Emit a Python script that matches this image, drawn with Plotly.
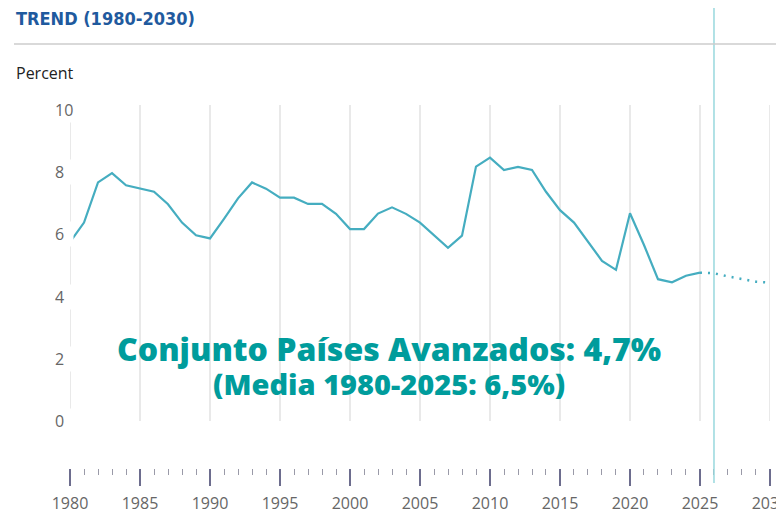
import plotly.graph_objects as go

years = list(range(1980, 2026))
values = [5.75, 6.38, 7.67, 7.97, 7.58, 7.47, 7.37, 6.97, 6.38, 5.97,
          5.87, 6.50, 7.16, 7.67, 7.47, 7.18, 7.18, 6.98, 6.98, 6.66,
          6.17, 6.17, 6.67, 6.87, 6.66, 6.38, 5.98, 5.57, 5.96, 8.18,
          8.47, 8.07, 8.17, 8.07, 7.37, 6.78, 6.38, 5.77, 5.15, 4.86,
          6.68, 5.66, 4.56, 4.46, 4.67, 4.77]
proj_years = [2025, 2026, 2027, 2028, 2029, 2030]
proj_values = [4.77, 4.75, 4.65, 4.57, 4.48, 4.45]
y_ticks = [0, 2, 4, 6, 8, 10]
x_ticks = list(range(1980, 2031, 5))
current_year = 2026
headline = "Conjunto Países Avanzados: 4,7%"
subline = "(Media 1980-2025: 6,5%)"

LINE = "#45adc0"
TEAL = "#009c9c"

fig = go.Figure()
fig.add_trace(go.Scatter(x=years, y=values, mode="lines",
                         line=dict(color=LINE, width=2.2), hoverinfo="skip"))
fig.add_trace(go.Scatter(x=proj_years, y=proj_values, mode="lines",
                         line=dict(color=LINE, width=2.5, dash="2px,6px"), hoverinfo="skip"))

shapes = []
for xv in x_ticks:
    shapes.append(dict(type="line", xref="x", yref="y", x0=xv, x1=xv, y0=0, y1=10.16,
                       line=dict(color="#e2e2e2", width=1.5), layer="below"))
# current-year marker
shapes.append(dict(type="line", xref="x", yref="paper", x0=current_year, x1=current_year,
                   y0=-0.041, y1=1.275, line=dict(color="#98d8dd", width=1.5), layer="above"))
# header rule
shapes.append(dict(type="line", xref="paper", yref="paper", x0=-0.08, x1=1.03, y0=1.168, y1=1.168,
                   line=dict(color="#cccccc", width=1.5)))

annotations = []
for yv in y_ticks:
    label = str(yv)
    annotations.append(dict(x=1980, y=yv, xref="x", yref="y", text=label, showarrow=False,
                            xanchor="left", xshift=-17, width=8 + 9 * len(label), align="left",
                            bgcolor="white", borderpad=1,
                            font=dict(family="Open Sans", size=16, color="#666666")))
annotations.append(dict(x=-0.08, y=1.237, xref="paper", yref="paper", text="<b>TREND (1980-2030)</b>",
                        showarrow=False, xanchor="left", yanchor="middle",
                        font=dict(family="DejaVu Sans Condensed", size=18, color="#1f5a9e")))
annotations.append(dict(x=-0.08, y=1.088, xref="paper", yref="paper", text="Percent",
                        showarrow=False, xanchor="left", yanchor="middle",
                        font=dict(family="Open Sans", size=16, color="#222222")))
annotations.append(dict(x=0.456, y=1.8, xref="paper", yref="y",
                        text=("<span style='font-size:32px'>" + headline + "</span><br>"
                              "<span style='font-size:29px'>" + subline + "</span>"),
                        showarrow=False, xanchor="center", yanchor="middle", align="center",
                        font=dict(family="Open Sans", size=26, color=TEAL, weight=800)))

fig.update_layout(
    width=776, height=501,
    margin=dict(l=62, r=14, t=97, b=41, autoexpand=False),
    paper_bgcolor="white", plot_bgcolor="white",
    showlegend=False,
    shapes=shapes, annotations=annotations,
    xaxis=dict(range=[1979.999, 2030.001], tickvals=x_ticks, showgrid=False, zeroline=False,
               showline=False, ticks="outside", ticklen=17, tickwidth=1.5, tickcolor="#6d6d8e",
               tickfont=dict(family="Open Sans", size=16, color="#666666"),
               automargin=False, ticklabelstandoff=4, ticklabeloverflow="allow",
               minor=dict(dtick=1, ticks="outside", ticklen=6, tickwidth=1, tickcolor="#9a9aa8", showgrid=False),
               fixedrange=True),
    yaxis=dict(range=[-1.51, 10.16], showgrid=False, zeroline=False, showline=False,
               showticklabels=False, ticks="", automargin=False, fixedrange=True),
)

fig.write_html("out.html")
